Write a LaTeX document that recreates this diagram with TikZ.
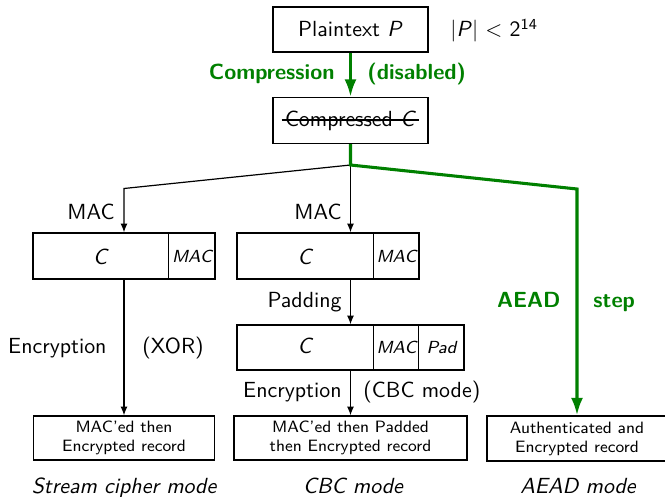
\documentclass[tikz,border=0pt]{standalone}
\usetikzlibrary{arrows.meta}
\definecolor{dgreen}{rgb}{0,0.5,0}
\newcommand\px{0.457pt}
\begin{document}
\begin{tikzpicture}[x=0.457pt,y=-0.457pt,font=\sffamily,
  box/.style={draw,line width=0.6pt,inner sep=0pt,minimum height=46*\px},
  lab/.style={inner sep=0pt},
  blk/.style={line width=0.55pt,-{Latex[length=4pt,width=3.2pt]}},
  grn/.style={draw=dgreen,line width=1.4pt,line join=miter,-{Latex[length=8pt,width=5.5pt]}},
  glab/.style={lab,text=dgreen,font=\sffamily\bfseries},
  rectext/.style={font=\sffamily\fontsize{7.5}{8.7}\selectfont,align=center},
  tinyit/.style={lab,font=\sffamily\itshape\fontsize{8}{9}\selectfont},
  modelab/.style={lab,font=\sffamily\itshape}]
\useasboundingbox (0,0) rectangle (665,497);

% top
\node[box,minimum width=155*\px,minimum height=45*\px] (P) at (350.5,29.5) {};
\node[lab,anchor=base] (Pt) at (350.5,37) {Plaintext \textit{P}};
\node[lab,anchor=base west] (len) at (450,37) {$|$\textit{P}$|$ $<$ 2\textsuperscript{14}};
\node[box,minimum width=155*\px] (Cmp) at (350.5,120.5) {};
\node[lab,anchor=base] (ct) at (350.5,126) {Compressed \textit{C}};
\draw[line width=0.5pt] ([shift={(-3,-6)}]ct.base west) -- ([shift={(3,-6)}]ct.base east);
\draw[grn] (P) -- (Cmp);
\node[glab,anchor=base east] (cl) at (335,80) {Compression};
\node[glab,anchor=base west] (cr) at (367,80) {(disabled)};

% branches
\coordinate (j) at (350.5,165);
\coordinate (L) at (124,188.5);
\coordinate (R) at (577,189);

% left column
\node[box,minimum width=182*\px] (b1) at (124,256) {};
\draw[line width=0.6pt] ([xshift=136*\px]b1.north west) -- ([xshift=136*\px]b1.south west);
\node[lab,anchor=base] (b1c) at (101,264) {\textit{C}};
\node[tinyit,anchor=base] (b1m) at (192,262) {MAC};
\node[box,rectext,minimum width=181*\px,minimum height=44*\px] (r1) at (124,438) {MAC'ed then\\Encrypted record};
\draw[blk] (j) -- (L) -- (b1.north);
\draw[blk] (b1) -- (r1);
\node[lab,anchor=base east] (mac1) at (115,219) {MAC};
\node[lab,anchor=base east] (enc1) at (107,353) {Encryption};
\node[lab,anchor=base west] (xor) at (142,353) {(XOR)};
\node[modelab,anchor=base] (mode1) at (124,493) {Stream cipher mode};

% middle column
\node[box,minimum width=182*\px] (m1) at (328,256) {};
\draw[line width=0.6pt] ([xshift=137*\px]m1.north west) -- ([xshift=137*\px]m1.south west);
\node[lab,anchor=base] (m1c) at (305.5,264) {\textit{C}};
\node[tinyit,anchor=base] (m1m) at (396.5,262) {MAC};
\node[box,minimum width=227*\px,minimum height=45*\px] (m2) at (350.5,347.5) {};
\draw[line width=0.6pt] ([xshift=137*\px]m2.north west) -- ([xshift=137*\px]m2.south west);
\draw[line width=0.6pt] ([xshift=182*\px]m2.north west) -- ([xshift=182*\px]m2.south west);
\node[lab,anchor=base] (m2c) at (305.5,353) {\textit{C}};
\node[tinyit,anchor=base] (m2m) at (396.5,353) {MAC};
\node[tinyit,anchor=base] (m2p) at (441.5,353) {Pad};
\node[box,rectext,minimum width=233*\px,minimum height=44*\px] (r2) at (350.5,438) {MAC'ed then Padded\\then Encrypted record};
\draw[blk] (j) -- (j |- m1.north);
\draw[blk] (m1.south -| m2.north) -- (m2.north);
\draw[blk] (m2) -- (r2);
\node[lab,anchor=base east] (mac2) at (342,219) {MAC};
\node[lab,anchor=base east] (pad) at (342,307) {Padding};
\node[lab,anchor=base east] (enc2) at (342,397) {Encryption};
\node[lab,anchor=base west] (cbc) at (363,397) {(CBC mode)};
\node[modelab,anchor=base] (mode2) at (353,493) {CBC mode};

% right column
\node[box,rectext,minimum width=180*\px,minimum height=45*\px] (r3) at (577,438.5) {Authenticated and\\Encrypted record};
\draw[grn] (Cmp) -- (j) -- (R) -- (r3.north);
\node[glab,anchor=base east] (aead) at (561,307) {AEAD};
\node[glab,anchor=base west] (step) at (593,307) {step};
\node[modelab,anchor=base] (mode3) at (578,493) {AEAD mode};
\end{tikzpicture}
\end{document}
